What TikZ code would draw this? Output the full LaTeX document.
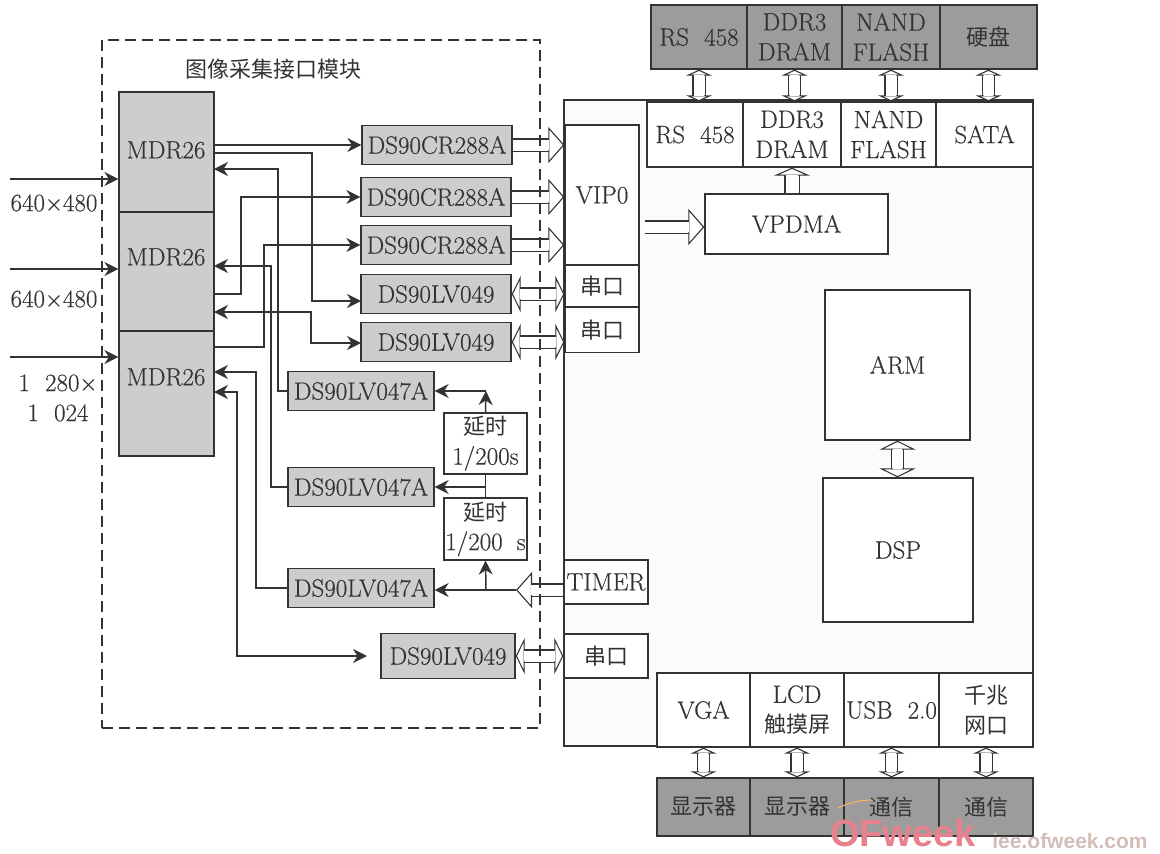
\documentclass[tikz,border=0pt]{standalone}
\usepackage{fontspec}
\usepackage{xcolor}
\usepackage{tikz}
\usetikzlibrary{arrows.meta, positioning}
\setmainfont{Latin Modern Roman}[FakeBold=0.4]
\newfontfamily\cjk[Scale=0.88]{Noto Sans CJK SC}
\newfontfamily\brandfont{Liberation Sans}
\definecolor{inkgrey}{HTML}{333333}
\definecolor{chipgrey}{HTML}{CDCDCD}
\definecolor{portgrey}{HTML}{9C9C9C}
\definecolor{corefill}{HTML}{FBFBFB}
\definecolor{brandred}{HTML}{E8818E}
\definecolor{sitegrey}{HTML}{D2BDB8}
\tikzset{
  txt/.style={font=\fontsize{25}{30}\selectfont, text=inkgrey, align=center, inner sep=0pt},
  box/.style={txt, draw=inkgrey, line width=1.3pt, fill=white, minimum width=84, minimum height=44},
  chip/.style={box, fill=chipgrey, minimum width=150, minimum height=39},
  mdr/.style={box, fill=chipgrey, minimum width=95},
  port/.style={box, minimum width=94, minimum height=65},
  extport/.style={box, fill=portgrey, minimum width=94, minimum height=64},
  link/.style={draw=inkgrey, line width=1.5pt, -{Stealth[length=14pt,width=14pt]}},
  wire/.style={draw=inkgrey, line width=1.5pt},
  both/.style={link, {Stealth[length=14pt,width=14pt]}-{Stealth[length=14pt,width=14pt]}},
  bus/.style={draw=inkgrey, line width=1.1pt, double=white, double distance=11pt,
    -{Triangle[fill=white,line width=1.1pt,length=16pt,width=36pt]},
    postaction={draw=white, double=white, line width=0.5pt, double distance=8.5pt, arrows=-, shorten >=15pt}},
  upbus/.style={draw=inkgrey, line width=1.1pt, double=white, double distance=13pt,
    -{Triangle[fill=white,line width=1.1pt,length=8pt,width=36pt]},
    postaction={draw=white, double=white, line width=0.5pt, double distance=10.5pt, arrows=-, shorten >=7pt}},
  dbus/.style={draw=inkgrey, line width=1.1pt, double=white, double distance=11pt,
    {Triangle[fill=white,line width=1.1pt,length=9pt,width=36pt]}-{Triangle[fill=white,line width=1.1pt,length=9pt,width=36pt]},
    postaction={draw=white, double=white, line width=0.5pt, double distance=8.5pt, arrows=-, shorten >=8pt, shorten <=8pt}},
  vbus/.style={draw=inkgrey, line width=1.1pt, double=white, double distance=11pt,
    {Triangle[fill=white,line width=1.1pt,length=6pt,width=26pt]}-{Triangle[fill=white,line width=1.1pt,length=6pt,width=26pt]},
    postaction={draw=white, double=white, line width=0.5pt, double distance=8.5pt, arrows=-, shorten >=5pt, shorten <=5pt}}
}
\begin{document}
\begin{tikzpicture}[x=1pt,y=-1pt]
\useasboundingbox (0,0) rectangle (1160,854);
% core
\node[box, fill=corefill, minimum width=469, minimum height=646] (core) at (798.5,423) {};
% external parts, top
\node[extport, minimum width=96] (extrs) at (699,37) {RS\ \ 458};
\node[extport, minimum width=95] (extddr) at (794.5,37) {DDR3\\DRAM};
\node[extport, minimum width=98] (extnand) at (891,37) {NAND\\FLASH};
\node[extport, minimum width=97] (exthdd) at (988.5,37) {\cjk 硬盘};
% ports, top
\node[port, minimum width=96] (rs) at (695,134.5) {RS\ \ 458};
\node[port, minimum width=98] (ddr) at (792,134.5) {DDR3\\DRAM};
\node[port, minimum width=95] (nand) at (888.5,134.5) {NAND\\FLASH};
\node[port, minimum width=97] (sata) at (984.5,134.5) {SATA};
% inside the core
\node[box, minimum width=74, minimum height=140] (vip) at (602,195) {VIP0};
\node[box, minimum width=74, minimum height=42] (uarta) at (602,286) {\cjk 串口};
\node[box, minimum width=74, minimum height=45] (uartb) at (602,330) {\cjk 串口};
\node[box, minimum width=183, minimum height=60] (vpdma) at (796.5,224) {VPDMA};
\node[box, minimum width=145, minimum height=150] (arm) at (897.5,365) {ARM};
\node[box, minimum width=150, minimum height=144] (dsp) at (898,550) {DSP};
\node[box, minimum height=44] (timer) at (606,582) {TIMER};
\node[box] (uartc) at (606,656) {\cjk 串口};
% ports, bottom
\node[port, minimum width=93, minimum height=74] (vga) at (703.5,710) {VGA};
\node[port, minimum width=94, minimum height=74] (lcd) at (797,710) {LCD\\{\cjk 触摸屏}};
\node[port, minimum width=95, minimum height=74] (usb) at (891.5,710) {USB\ \ 2.0};
\node[port, minimum width=94, minimum height=74] (gbe) at (986,710) {\cjk 千兆\\\cjk 网口};
% external parts, bottom
\node[extport, minimum width=93, minimum height=58] (mona) at (703.5,807) {\cjk 显示器};
\node[extport, minimum width=94, minimum height=58] (monb) at (797,807) {\cjk 显示器};
\node[extport, minimum width=95, minimum height=58] (coma) at (891.5,807) {\cjk 通信};
\node[extport, minimum width=94, minimum height=58] (comb) at (986,807) {\cjk 通信};
% capture module
\node[txt] (title) at (273,69) {\cjk 图像采集接口模块};
\node[mdr, minimum height=120] (mdra) at (166.5,152) {};
\node[mdr, minimum height=119] (mdrb) at (166.5,271.5) {};
\node[mdr, minimum height=125] (mdrc) at (166.5,393.5) {};
\node[txt] (mdratxt) at (166,150) {MDR26};
\node[txt] (mdrbtxt) at (166,257) {MDR26};
\node[txt] (mdrctxt) at (166,377) {MDR26};
\node[chip] (cra) at (437,145) {DS90CR288A};
\node[chip] (crb) at (436,197) {DS90CR288A};
\node[chip] (crc) at (436,245) {DS90CR288A};
\node[chip] (lva) at (436,294) {DS90LV049};
\node[chip] (lvb) at (436,342) {DS90LV049};
\node[chip, minimum width=146] (lvda) at (361,391) {DS90LV047A};
\node[chip, minimum width=146] (lvdb) at (361,487) {DS90LV047A};
\node[chip, minimum width=146] (lvdc) at (361,588) {DS90LV047A};
\node[chip, minimum width=134, minimum height=45] (lvc) at (448,656) {DS90LV049};
\node[box, minimum width=83, minimum height=61] (delaya) at (485.5,443.5) {\cjk 延时\\1/200s};
\node[box, minimum width=83, minimum height=62] (delayb) at (485.5,529) {\cjk 延时\\1/200\hspace{14pt}s};
% inputs
\node[txt] (resa) at (54,203) {640×480};
\node[txt] (resb) at (54,299) {640×480};
\node[txt] (resc) at (58,398) {1\ \ 280×\\1\ \ 024};
\coordinate (ina) at (10,179);
\coordinate (inb) at (10,269);
\coordinate (inc) at (10,357);
\draw[link] (ina) -- (mdra.west |- ina);
\draw[link] (inb) -- (mdrb.west |- inb);
\draw[link] (inc) -- (mdrc.west |- inc);
% control and data lines
\coordinate (mdrla) at (214,145);
\coordinate (mdrlb) at (214,153);
\coordinate (mdrlc) at (214,169);
\coordinate (mdrld) at (214,266);
\coordinate (mdrle) at (214,294);
\coordinate (mdrlf) at (214,312);
\coordinate (mdrlg) at (214,347);
\coordinate (mdrlh) at (214,372);
\coordinate (mdrli) at (214,392);
\coordinate (lvain) at (361,301);
\coordinate (lvbin) at (361,343);
\coordinate (lvcin) at (367,656);
\draw[link] (mdrla) -- (cra.west);
\draw[link] (mdrlb) -- (312,153) |- (lvain);
\draw[link] (lvda.west) -- (278,391) |- (mdrlc);
\draw[link] (mdrle) -- (241,294) |- (crb.west);
\draw[link] (lvdb.west) -- (271,487) |- (mdrld);
\draw[both] (mdrlf) -- (311,312) |- (lvbin);
\draw[link] (mdrlg) -- (264,347) |- (crc.west);
\draw[link] (lvdc.west) -- (256,588) |- (mdrlh);
\draw[both] (mdrli) -- (237,392) |- (lvcin);
% delay chain
\coordinate (tapa) at (486,391);
\coordinate (tapb) at (486,487);
\coordinate (tapc) at (486,590);
\coordinate (busend) at (516,590);
\draw[link] (delaya.north) -- (tapa);
\draw[link] (tapa) -- (lvda.east);
\draw[wire] (delaya.south) -- (delayb.north);
\draw[link] (tapb) -- (lvdb.east);
\draw[link] (busend) -- (lvdc.east |- busend);
\draw[link] (tapc) -- (delayb.south);
% buses
\draw[bus] (cra.east) -- (vip.west |- cra.east);
\draw[bus] (crb.east) -- (vip.west |- crb.east);
\draw[bus] (crc.east) -- (vip.west |- crc.east);
\draw[dbus] (lva.east) -- (uarta.west |- lva.east);
\draw[dbus] (lvb.east) -- (uartb.west |- lvb.east);
\draw[dbus] (lvc.east) -- (uartc.west);
\draw[bus] (timer.west |- busend) -- (busend);
\coordinate (vipout) at (645,227);
\draw[bus] (vipout) -- (vpdma.west |- vipout);
\draw[upbus] (vpdma.north -| ddr.south) -- (ddr.south);
\draw[vbus] (rs.north -| extrs.south) -- (extrs.south);
\draw[vbus] (ddr.north -| extddr.south) -- (extddr.south);
\draw[vbus] (nand.north -| extnand.south) -- (extnand.south);
\draw[vbus] (sata.north -| exthdd.south) -- (exthdd.south);
\draw[dbus] (arm.south) -- (arm.south |- dsp.north);
\draw[vbus] (vga.south) -- (mona.north);
\draw[vbus] (lcd.south) -- (monb.north);
\draw[vbus] (usb.south) -- (coma.north);
\draw[vbus] (gbe.south) -- (comb.north);
% module outline
\node[draw=inkgrey, line width=1.5pt, dash pattern=on 11pt off 6pt, minimum width=438, minimum height=688, inner sep=0pt] (module) at (321,384) {};
% mark
\draw[orange!60, line width=1pt] (838,808) .. controls (850,802) and (862,800) .. (873,800);
\node[font=\fontsize{38}{38}\brandfont\bfseries\selectfont, text=brandred, inner sep=0pt] (brand) at (903,833) {OFweek};
\node[font=\fontsize{21}{21}\brandfont\bfseries\selectfont, text=sitegrey, inner sep=0pt] (site) at (1070,841) {iee.ofweek.com};
\end{tikzpicture}
\end{document}
